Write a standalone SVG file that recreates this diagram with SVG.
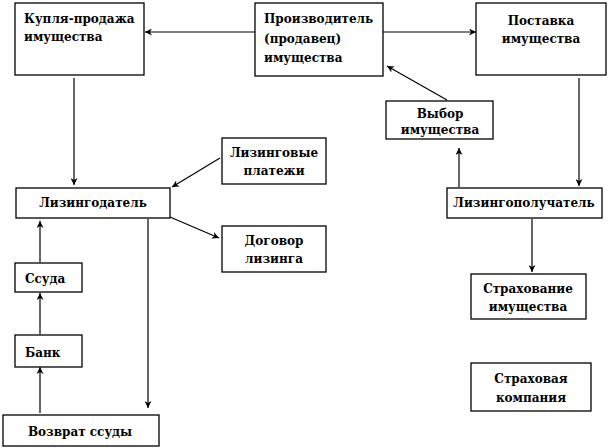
<svg xmlns="http://www.w3.org/2000/svg" width="608" height="448" viewBox="0 0 608 448">
<style>
rect{fill:#fff;stroke:#000;stroke-width:1.3}
text{font-family:"DejaVu Serif","Liberation Serif",serif;font-weight:bold;font-size:12px;fill:#000}
.c{text-anchor:middle}
.ln{stroke:#000;stroke-width:1.2;fill:none;marker-end:url(#ah)}
</style>
<defs>
<marker id="ah" viewBox="0 0 10 10" refX="10" refY="5" markerWidth="7" markerHeight="7" markerUnits="userSpaceOnUse" orient="auto">
<path d="M0,0 L10,5 L0,10 L3,5 Z" fill="#000"/>
</marker>
</defs>
<rect x="0" y="0" width="608" height="448" style="stroke:none"/>
<g id="connectors">
<line class="ln" x1="255" y1="32" x2="145" y2="32"/>
<line class="ln" x1="383" y1="32" x2="476" y2="32"/>
<line class="ln" x1="447" y1="100" x2="387" y2="66"/>
<line class="ln" x1="74" y1="78" x2="74" y2="185"/>
<line class="ln" x1="579" y1="78" x2="579" y2="186"/>
<line class="ln" x1="459" y1="187" x2="459" y2="148"/>
<line class="ln" x1="220" y1="158" x2="172" y2="187"/>
<line class="ln" x1="170" y1="217" x2="219" y2="238"/>
<line class="ln" x1="532" y1="219" x2="532" y2="272"/>
<line class="ln" x1="148" y1="219" x2="148" y2="408"/>
<line class="ln" x1="40" y1="262" x2="40" y2="221"/>
<line class="ln" x1="40" y1="334" x2="40" y2="293"/>
<line class="ln" x1="40" y1="413" x2="40" y2="367"/>
</g>
<g id="kuplya">
<rect x="15" y="3" width="129" height="72"/>
<text x="24" y="23">Купля-продажа</text>
<text x="24" y="41">имущества</text>
</g>
<g id="proizvoditel">
<rect x="255" y="3" width="128" height="73"/>
<text x="264" y="23">Производитель</text>
<text x="264" y="43">(продавец)</text>
<text x="264" y="62">имущества</text>
</g>
<g id="postavka">
<rect x="476" y="3" width="130" height="72"/>
<text class="c" x="541" y="25">Поставка</text>
<text class="c" x="541" y="43">имущества</text>
</g>
<g id="vybor">
<rect x="386" y="101" width="107" height="38"/>
<text class="c" x="440" y="118">Выбор</text>
<text class="c" x="440" y="134">имущества</text>
</g>
<g id="lizingovye">
<rect x="222" y="138" width="104" height="46"/>
<text class="c" x="274" y="157">Лизинговые</text>
<text class="c" x="274" y="175">платежи</text>
</g>
<g id="lizingodatel">
<rect x="16" y="188" width="154" height="30"/>
<text class="c" x="93" y="207">Лизингодатель</text>
</g>
<g id="lizingopoluchatel">
<rect x="447" y="188" width="155" height="30"/>
<text class="c" x="524" y="207">Лизингополучатель</text>
</g>
<g id="dogovor">
<rect x="222" y="226" width="104" height="46"/>
<text class="c" x="274" y="245">Договор</text>
<text class="c" x="274" y="263">лизинга</text>
</g>
<g id="ssuda">
<rect x="15" y="263" width="67" height="29"/>
<text x="25" y="283">Ссуда</text>
</g>
<g id="strakhovanie">
<rect x="471" y="274" width="115" height="45"/>
<text class="c" x="528" y="293">Страхование</text>
<text class="c" x="528" y="311">имущества</text>
</g>
<g id="bank">
<rect x="15" y="335" width="67" height="32"/>
<text x="25" y="357">Банк</text>
</g>
<g id="strakhovaya">
<rect x="471" y="363" width="120" height="48"/>
<text class="c" x="531" y="383">Страховая</text>
<text class="c" x="531" y="402">компания</text>
</g>
<g id="vozvrat">
<rect x="3" y="415" width="156" height="31"/>
<text class="c" x="80" y="436">Возврат ссуды</text>
</g>
</svg>
